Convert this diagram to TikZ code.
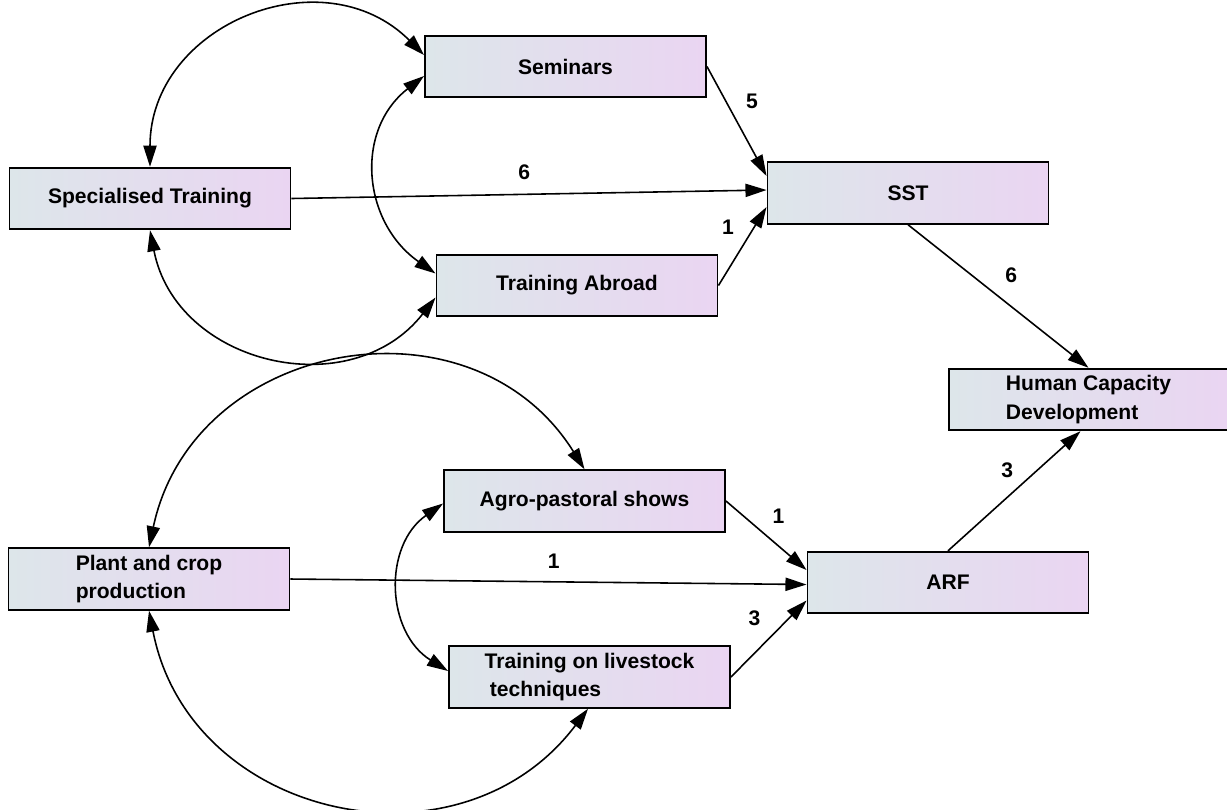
\documentclass[tikz,border=0pt]{standalone}
\usepackage{fontspec}
\setmainfont{Liberation Sans}
\usetikzlibrary{arrows.meta,positioning}

\definecolor{boxleft}{HTML}{DDE6EA}
\definecolor{boxright}{HTML}{EAD5F2}

\tikzstyle{factor} = [draw, line width=1.1pt, left color=boxleft, right color=boxright, minimum width=5.62cm, minimum height=1.23cm, inner sep=0pt, align=left, font=\bfseries\fontsize{12}{16}\selectfont]
\tikzstyle{link} = [draw, line width=0.9pt, -{Triangle[length=12pt,width=7.5pt]}]
\tikzstyle{corr} = [draw, line width=0.9pt, {Triangle[length=12pt,width=7.5pt]}-{Triangle[length=12pt,width=7.5pt]}]
\tikzstyle{weight} = [font=\bfseries\fontsize{12}{14}\selectfont, inner sep=0pt]

\begin{document}
\begin{tikzpicture}
\useasboundingbox (0,0) rectangle (24.54,-16.18);

% upper block
\node[factor] (sem) at (11.31,-1.33) {Seminars};
\node[factor] (spec) at (3.0,-3.97) {Specialised Training};
\node[factor] (abroad) at (11.54,-5.71) {Training Abroad};
\node[factor] (sst) at (18.16,-3.86) {SST};
\node[factor, minimum width=5.58cm] (hcd) at (21.77,-7.99) {Human Capacity\\Development};

% lower block
\node[factor] (agro) at (11.69,-10.02) {Agro-pastoral shows};
\node[factor] (plant) at (2.98,-11.58) {Plant and crop\\production};
\node[factor] (arf) at (18.96,-11.65) {ARF};
\node[factor] (livestock) at (11.79,-13.54) {Training on livestock\\\hspace{3pt}techniques};

% paths
\draw[link] (sem.east) -- node[weight, pos=0.32, right=11pt] (w1) {5} ([yshift=0.34cm]sst.west);
\draw[link] (spec.east) -- node[weight, pos=0.49, above=8pt] (w2) {6} ([yshift=0.06cm]sst.west);
\draw[link] (abroad.east) -- node[weight, pos=0.74, left=11pt] (w3) {1} ([yshift=-0.28cm]sst.west);
\draw[link] (sst.south) -- node[weight, pos=0.35, right=19pt] (w4) {6} (hcd.north);
\draw[link] (arf.north) -- node[weight, pos=0.67, left=13pt] (w5) {3} ([xshift=-0.16cm]hcd.south);
\draw[link] (agro.east) -- node[weight, pos=0.22, right=16pt] (w6) {1} ([yshift=0.25cm]arf.west);
\draw[link] (plant.east) -- node[weight, pos=0.51, above=7pt] (w7) {1} ([yshift=-0.04cm]arf.west);
\draw[link] (livestock.east) -- node[weight, pos=0.77, left=16pt] (w8) {3} ([yshift=-0.36cm]arf.west);

% covariances
\draw[corr] (spec.north) to[out=90, in=135, looseness=1.23] ([yshift=0.23cm]sem.west);
\draw[corr] (spec.south) to[out=-79, in=-128, looseness=1.2] ([yshift=-0.24cm]abroad.west);
\draw[corr] ([yshift=-0.19cm]sem.west) to[out=218, in=145, looseness=1.15] ([yshift=0.24cm]abroad.west);
\draw[corr] (plant.north) to[out=78, in=122, looseness=1.23] (agro.north);
\draw[corr] (plant.south) to[out=-79, in=-127, looseness=1.21] ([xshift=-0.03cm]livestock.south);
\draw[corr] ([yshift=-0.05cm]agro.west) to[out=215, in=148, looseness=1.12] ([yshift=0.12cm]livestock.west);
\end{tikzpicture}
\end{document}
